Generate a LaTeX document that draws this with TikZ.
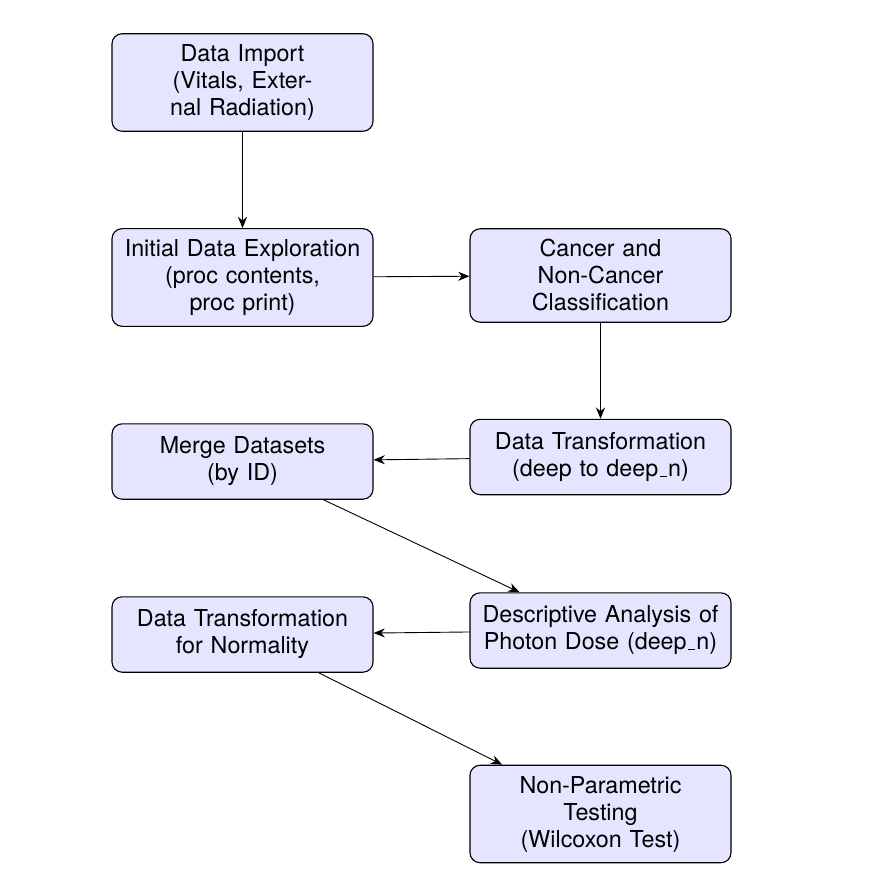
\documentclass[tikz,border=0pt]{standalone}
\usepackage{fontspec}
\setmainfont{TeX Gyre Heros}
\usetikzlibrary{arrows.meta}
\newcommand{\usc}{\leavevmode\kern.06em\rule{.3em}{0.4pt}\kern.06em}
\begin{document}
\begin{tikzpicture}[x=0.4444pt,y=-0.4444pt,
  box/.style={draw, line width=0.5pt, fill=blue!10, rounded corners=4.5pt, align=center,
    font=\fontsize{10.35}{12}\selectfont,
    text width=108pt, inner xsep=4pt, inner ysep=4.8pt, minimum height=33.5pt},
  arr/.style={draw, -{Stealth[length=5pt,width=4pt]}}]
\useasboundingbox (0,0) rectangle (886,888);
\node[box] (b1) at (242.5,82.5) {Data Import\\(Vitals, Exter-\\nal Radiation)};
\node[box] (b2) at (242.5,277.5) {Initial Data Exploration\\(proc contents,\\proc print)};
\node[box] (b3) at (600.5,275.5) {Cancer and\\Non-Cancer\\Classification};
\node[box] (b4) at (600.5,457) {Data Transformation\\(deep to deep\usc n)};
\node[box] (b5) at (242.5,461.5) {Merge Datasets\\(by ID)};
\node[box] (b6) at (600.5,630.5) {Descriptive Analysis of\\Photon Dose (deep\usc n)};
\node[box] (b7) at (242.5,634.5) {Data Transformation\\for Normality};
\node[box] (b8) at (600.5,814) {Non-Parametric\\Testing\\(Wilcoxon Test)};
\draw[arr] (b1) -- (b2);
\draw[arr] (b2) -- (b3);
\draw[arr] (b3) -- (b4);
\draw[arr] (b4) -- (b5);
\draw[arr] (b5) -- (b6);
\draw[arr] (b6) -- (b7);
\draw[arr] (b7) -- (b8);
\end{tikzpicture}
\end{document}
